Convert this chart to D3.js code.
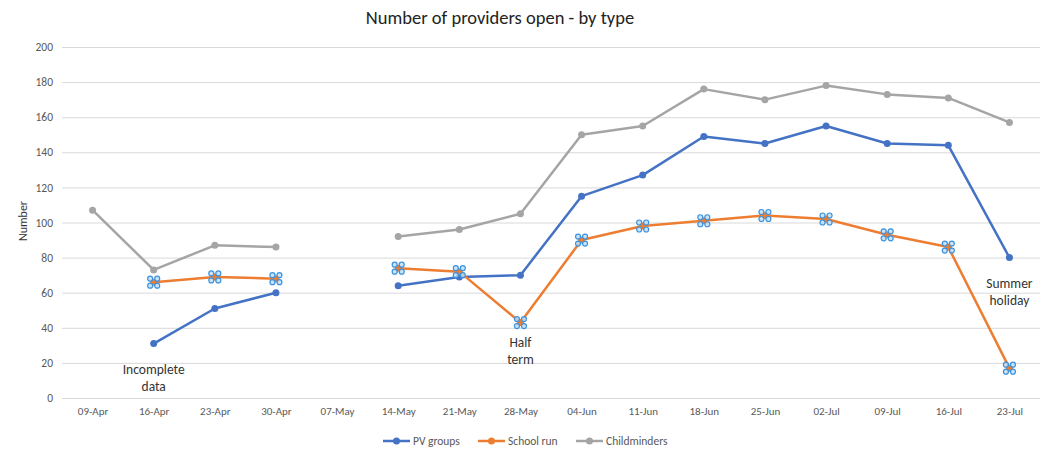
<!DOCTYPE html>
<html>
<head>
<meta charset="utf-8">
<script src="https://cdn.jsdelivr.net/npm/d3@7"></script>
<style>
  body { margin: 0; background: #fff; }
  text { font-family: Carlito, "Liberation Sans Narrow", "Open Sans", sans-serif; }
</style>
</head>
<body>
<div id="chart"></div>
<script>
var weeks = ["09-Apr", "16-Apr", "23-Apr", "30-Apr", "07-May", "14-May", "21-May", "28-May",
             "04-Jun", "11-Jun", "18-Jun", "25-Jun", "02-Jul", "09-Jul", "16-Jul", "23-Jul"];

var pvGroups     = [null, 31, 51, 60, null, 64, 69, 70, 115, 127, 149, 145, 155, 145, 144, 80];
var schoolRun    = [null, 66, 69, 68, null, 74, 72, 43, 90, 98, 101, 104, 102, 93, 86, 17];
var childminders = [107, 73, 87, 86, null, 92, 96, 105, 150, 155, 176, 170, 178, 173, 171, 157];

var seriesNames = ["PV groups", "School run", "Childminders"];
var yTicks = [0, 20, 40, 60, 80, 100, 120, 140, 160, 180, 200];

var notes = [
  {week: "16-Apr", value: 0, lines: ["Incomplete", "data"], dy: -24},
  {week: "28-May", value: 0, lines: ["Half", "term"], dy: -51},
  {week: "23-Jul", value: 0, lines: ["Summer", "holiday"], dy: -110}
];

function lineChart() {
  var width = 1046,
      height = 449,
      colors = ["#4472C4", "#ED7D31", "#A5A5A5"];

  var x = d3.scalePoint()
      .domain(weeks)
      .range([62, 1040])
      .padding(0.5);

  var y = d3.scaleLinear()
      .domain([0, 200])
      .range([398, 47]);

  function chart(selection) {
    selection.each(function(d) {
      var svg = d3.select(this).append("svg")
          .attr("width", width)
          .attr("height", height);

      svg.append("text")
          .attr("x", 500)
          .attr("y", 24)
          .attr("text-anchor", "middle")
          .attr("font-size", 18.5)
          .attr("fill", "#222")
          .text("Number of providers open - by type");

      // gridlines
      svg.append("g")
          .selectAll("line")
          .data(yTicks)
        .enter().append("line")
          .attr("x1", 62)
          .attr("x2", 1040)
          .attr("y1", function(v) { return y(v) + 0.5; })
          .attr("y2", function(v) { return y(v) + 0.5; })
          .attr("stroke", "#d9d9d9")
          .attr("stroke-width", 1);

      var yAxis = svg.append("g")
          .attr("transform", "translate(53,0)")
          .call(d3.axisLeft(y).tickValues(yTicks).tickSize(0).tickPadding(0));
      yAxis.select(".domain").remove();
      yAxis.selectAll("text")
          .attr("font-size", 11.5)
          .attr("fill", "#595959");

      var xAxis = svg.append("g")
          .attr("transform", "translate(0,398)")
          .call(d3.axisBottom(x).tickSize(0).tickPadding(9));
      xAxis.select(".domain").remove();
      xAxis.selectAll("text")
          .attr("font-size", 11)
          .attr("fill", "#595959");

      svg.append("text")
          .attr("transform", "translate(27,221) rotate(-90)")
          .attr("text-anchor", "middle")
          .attr("font-size", 12)
          .attr("fill", "#333")
          .text("Number");

      var line = d3.line()
          .defined(function(v) { return v != null; })
          .x(function(v, i) { return x(weeks[i]); })
          .y(function(v) { return y(v); });

      // draw childminders first, then PV, then school run on top
      [2, 0, 1].forEach(function(k) {
        var vals = d[k];
        svg.append("path")
            .attr("d", line(vals))
            .attr("fill", "none")
            .attr("stroke", colors[k])
            .attr("stroke-width", 2.5)
            .attr("stroke-linejoin", "round");

        var pts = vals.map(function(v, i) { return {v: v, w: weeks[i]}; })
            .filter(function(p) { return p.v != null; });

        svg.append("g")
            .selectAll("circle")
            .data(pts)
          .enter().append("circle")
            .attr("cx", function(p) { return x(p.w); })
            .attr("cy", function(p) { return y(p.v); })
            .attr("r", 3.5)
            .attr("fill", colors[k]);

        if (k === 1) {
          // selection handles around school run points
          var offs = [[-3.5, -3.5], [3.5, -3.5], [-3.5, 3.5], [3.5, 3.5]];
          pts.forEach(function(p) {
            svg.append("g")
                .selectAll("circle")
                .data(offs)
              .enter().append("circle")
                .attr("cx", function(o) { return x(p.w) + o[0]; })
                .attr("cy", function(o) { return y(p.v) + o[1]; })
                .attr("r", 2.5)
                .attr("fill", "#bcdcf6")
                .attr("fill-opacity", 0.8)
                .attr("stroke", "#3c92dc")
                .attr("stroke-width", 1.2);
          });
        }
      });

      // annotations
      notes.forEach(function(n) {
        var t = svg.append("text")
            .attr("text-anchor", "middle")
            .attr("font-size", 13.5)
            .attr("fill", "#333");
        n.lines.forEach(function(s, j) {
          t.append("tspan")
              .attr("x", x(n.week))
              .attr("y", y(n.value) + n.dy + j * 17)
              .text(s);
        });
      });

      // legend
      var legX = [383, 478, 576];
      var leg = svg.append("g")
          .selectAll("g")
          .data(seriesNames)
        .enter().append("g")
          .attr("transform", function(s, i) { return "translate(" + legX[i] + ",441)"; });
      leg.append("line")
          .attr("x1", 0).attr("x2", 27)
          .attr("stroke", function(s, i) { return colors[i]; })
          .attr("stroke-width", 2.5);
      leg.append("circle")
          .attr("cx", 13.5).attr("r", 3.5)
          .attr("fill", function(s, i) { return colors[i]; });
      leg.append("text")
          .attr("x", 30)
          .attr("dy", "0.35em")
          .attr("font-size", 11.5)
          .attr("fill", "#595959")
          .text(function(s) { return s; });
    });
  }

  return chart;
}

d3.select("#chart")
    .datum([pvGroups, schoolRun, childminders])
    .call(lineChart());
</script>
</body>
</html>
